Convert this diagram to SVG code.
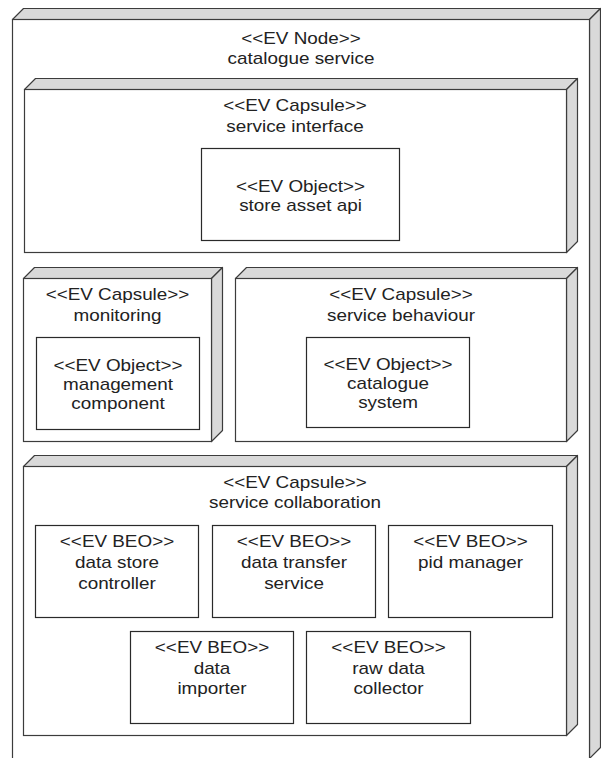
<svg xmlns="http://www.w3.org/2000/svg" width="601" height="758" viewBox="0 0 601 758">
<style>
.face{fill:#ffffff;stroke:#3c3c3c;stroke-width:1.2}
.shade{fill:#d9d9d9;stroke:#3c3c3c;stroke-width:1.2;stroke-linejoin:round}
.box{fill:#ffffff;stroke:#2a2a2a;stroke-width:1.2}
.t{font-family:"Liberation Sans",Arial,sans-serif;font-size:16px;fill:#222222;text-anchor:middle}
</style>
<rect width="601" height="758" fill="#ffffff"/>
<g id="node-catalogue-service">
  <polygon class="shade" points="12.5,19.5 23.5,8.5 600.5,8.5 589.5,19.5"/>
  <polygon class="shade" points="589.5,19.5 600.5,8.5 600.5,747.5 589.5,758.5"/>
  <rect class="face" x="12.5" y="19.5" width="577" height="745"/>
  <text class="t" transform="translate(301 44) scale(1.18 1)">&lt;&lt;EV Node&gt;&gt;</text>
  <text class="t" transform="translate(301 64) scale(1.18 1)">catalogue service</text>
</g>
<g id="capsule-service-interface">
  <polygon class="shade" points="24.5,89.5 35.5,78.5 577.5,78.5 566.5,89.5"/>
  <polygon class="shade" points="566.5,89.5 577.5,78.5 577.5,241.5 566.5,252.5"/>
  <rect class="face" x="24.5" y="89.5" width="542" height="163"/>
  <text class="t" transform="translate(295 111) scale(1.18 1)">&lt;&lt;EV Capsule&gt;&gt;</text>
  <text class="t" transform="translate(295 132) scale(1.18 1)">service interface</text>
</g>
<g id="object-store-asset-api">
  <rect class="box" x="201.5" y="148.5" width="198" height="92"/>
  <text class="t" transform="translate(300.5 192) scale(1.18 1)">&lt;&lt;EV Object&gt;&gt;</text>
  <text class="t" transform="translate(300.5 211) scale(1.18 1)">store asset api</text>
</g>
<g id="capsule-monitoring">
  <polygon class="shade" points="23.5,278.5 34.5,267.5 222.5,267.5 211.5,278.5"/>
  <polygon class="shade" points="211.5,278.5 222.5,267.5 222.5,430.5 211.5,441.5"/>
  <rect class="face" x="23.5" y="278.5" width="188" height="163"/>
  <text class="t" transform="translate(117.5 300) scale(1.18 1)">&lt;&lt;EV Capsule&gt;&gt;</text>
  <text class="t" transform="translate(117.5 321) scale(1.18 1)">monitoring</text>
</g>
<g id="object-management-component">
  <rect class="box" x="36.5" y="337.5" width="163" height="92"/>
  <text class="t" transform="translate(118 371) scale(1.18 1)">&lt;&lt;EV Object&gt;&gt;</text>
  <text class="t" transform="translate(118 390) scale(1.18 1)">management</text>
  <text class="t" transform="translate(118 409) scale(1.18 1)">component</text>
</g>
<g id="capsule-service-behaviour">
  <polygon class="shade" points="235.5,278.5 246.5,267.5 577.5,267.5 566.5,278.5"/>
  <polygon class="shade" points="566.5,278.5 577.5,267.5 577.5,430.5 566.5,441.5"/>
  <rect class="face" x="235.5" y="278.5" width="331" height="163"/>
  <text class="t" transform="translate(401 300) scale(1.18 1)">&lt;&lt;EV Capsule&gt;&gt;</text>
  <text class="t" transform="translate(401 321) scale(1.18 1)">service behaviour</text>
</g>
<g id="object-catalogue-system">
  <rect class="box" x="306.5" y="337.5" width="163" height="90"/>
  <text class="t" transform="translate(388 370) scale(1.18 1)">&lt;&lt;EV Object&gt;&gt;</text>
  <text class="t" transform="translate(388 389) scale(1.18 1)">catalogue</text>
  <text class="t" transform="translate(388 408) scale(1.18 1)">system</text>
</g>
<g id="capsule-service-collaboration">
  <polygon class="shade" points="23.5,466.5 34.5,455.5 577.5,455.5 566.5,466.5"/>
  <polygon class="shade" points="566.5,466.5 577.5,455.5 577.5,724.5 566.5,735.5"/>
  <rect class="face" x="23.5" y="466.5" width="543" height="269"/>
  <text class="t" transform="translate(295 488) scale(1.18 1)">&lt;&lt;EV Capsule&gt;&gt;</text>
  <text class="t" transform="translate(295 508) scale(1.18 1)">service collaboration</text>
</g>
<g id="beo-data-store-controller">
  <rect class="box" x="35.5" y="525.5" width="163" height="92"/>
  <text class="t" transform="translate(117 547) scale(1.18 1)">&lt;&lt;EV BEO&gt;&gt;</text>
  <text class="t" transform="translate(117 568) scale(1.18 1)">data store</text>
  <text class="t" transform="translate(117 589) scale(1.18 1)">controller</text>
</g>
<g id="beo-data-transfer-service">
  <rect class="box" x="212.5" y="525.5" width="163" height="92"/>
  <text class="t" transform="translate(294 547) scale(1.18 1)">&lt;&lt;EV BEO&gt;&gt;</text>
  <text class="t" transform="translate(294 568) scale(1.18 1)">data transfer</text>
  <text class="t" transform="translate(294 589) scale(1.18 1)">service</text>
</g>
<g id="beo-pid-manager">
  <rect class="box" x="388.5" y="525.5" width="164" height="92"/>
  <text class="t" transform="translate(470.5 547) scale(1.18 1)">&lt;&lt;EV BEO&gt;&gt;</text>
  <text class="t" transform="translate(470.5 568) scale(1.18 1)">pid manager</text>
</g>
<g id="beo-data-importer">
  <rect class="box" x="130.5" y="631.5" width="163" height="92"/>
  <text class="t" transform="translate(212 653) scale(1.18 1)">&lt;&lt;EV BEO&gt;&gt;</text>
  <text class="t" transform="translate(212 674) scale(1.18 1)">data</text>
  <text class="t" transform="translate(212 694) scale(1.18 1)">importer</text>
</g>
<g id="beo-raw-data-collector">
  <rect class="box" x="306.5" y="631.5" width="164" height="92"/>
  <text class="t" transform="translate(388.5 653) scale(1.18 1)">&lt;&lt;EV BEO&gt;&gt;</text>
  <text class="t" transform="translate(388.5 674) scale(1.18 1)">raw data</text>
  <text class="t" transform="translate(388.5 694) scale(1.18 1)">collector</text>
</g>
<g id="connectors"></g>
</svg>
